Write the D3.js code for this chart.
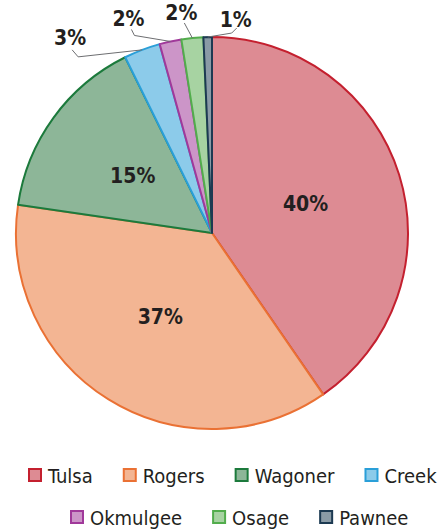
<!DOCTYPE html>
<html>
<head>
<meta charset="utf-8">
<script src="https://cdn.jsdelivr.net/npm/d3@7"></script>
<style>
  body { margin: 0; background: #fff; }
  text { font-family: "Liberation Sans Narrow", "Arial Narrow", "DejaVu Sans Condensed", sans-serif; }
  .pct { font-weight: bold; font-size: 21px; fill: #231f20; }
  .leg { font-size: 20px; fill: #231f20; }
</style>
</head>
<body>
<div id="chart"></div>
<script>
const counties = ["Tulsa", "Rogers", "Wagoner", "Creek", "Okmulgee", "Osage", "Pawnee"];
const shares = [40.4, 36.9, 15.4, 3.0, 1.8, 1.8, 0.7];
const labels = ["40%", "37%", "15%", "3%", "2%", "2%", "1%"];
const fills = ["#dd8b93", "#f3b593", "#8db698", "#8ccbea", "#cc95c8", "#a7d3a2", "#8a9ba6"];
const strokes = ["#c4202f", "#ea7134", "#1c7a3c", "#2a9fd8", "#a0399a", "#52ad4c", "#1c3a52"];
const outside = [false, false, false, true, true, true, true];

const width = 446, height = 531;
const cx = 212, cy = 233, radius = 196;

// leader line elbows / ends / text, relative to the point on the rim
const leaders = {
    3: { pts: [[-64, 7], [-70, 0]], txt: [-72, -5] },
    4: { pts: [[-36, -6], [-39, -12]], txt: [-42, -15] },
    5: { pts: [[-8, -15]], txt: [-11, -18] },
    6: { pts: [[24, -4], [29, -9]], txt: [28, -10] }
};

const svg = d3.select("#chart")
    .append("svg")
    .attr("width", width)
    .attr("height", height);

const pie = d3.pie().sort(null).value(d => d);
const arcs = pie(shares);

const arc = d3.arc().innerRadius(0).outerRadius(radius);
const labelArc = d3.arc().innerRadius(radius * 0.5).outerRadius(radius * 0.5);

const g = svg.append("g")
    .attr("transform", `translate(${cx},${cy})`);

g.selectAll("path.slice")
    .data(arcs)
    .join("path")
    .attr("class", "slice")
    .attr("d", arc)
    .attr("fill", (d, i) => fills[i])
    .attr("stroke", (d, i) => strokes[i])
    .attr("stroke-width", 2)
    .attr("stroke-linejoin", "round");

// inside labels
g.selectAll("text.inner")
    .data(arcs.filter((d, i) => !outside[i]))
    .join("text")
    .attr("class", "pct inner")
    .attr("transform", d => `translate(${labelArc.centroid(d)})`)
    .attr("text-anchor", "middle")
    .attr("dy", "0.35em")
    .text(d => labels[d.index]);

// outside labels with leader lines
arcs.forEach((d, i) => {
    if (!outside[i]) return;
    const mid = (d.startAngle + d.endAngle) / 2;
    const p = [Math.sin(mid) * radius, -Math.cos(mid) * radius];
    const l = leaders[i];
    const line = [p].concat(l.pts.map(o => [p[0] + o[0], p[1] + o[1]]));
    g.append("path")
        .attr("d", d3.line()(line))
        .attr("fill", "none")
        .attr("stroke", "#6d6e71")
        .attr("stroke-width", 1);
    g.append("text")
        .attr("class", "pct")
        .attr("x", p[0] + l.txt[0])
        .attr("y", p[1] + l.txt[1])
        .attr("text-anchor", "middle")
        .text(labels[i]);
});

// legend, two rows
const rows = [[0, 1, 2, 3], [4, 5, 6]];
const rowY = [476, 518];
const rowX = [28, 70];
const box = 14, gap = 30, pad = 6;

rows.forEach((row, r) => {
    const items = svg.append("g").attr("transform", `translate(${rowX[r]},0)`);
    let x = 0;
    row.forEach(i => {
        const item = items.append("g").attr("transform", `translate(${x},0)`);
        item.append("rect")
            .attr("x", 1)
            .attr("y", rowY[r] - box / 2)
            .attr("width", box - 2)
            .attr("height", box - 2)
            .attr("fill", fills[i])
            .attr("stroke", strokes[i])
            .attr("stroke-width", 2);
        const t = item.append("text")
            .attr("class", "leg")
            .attr("x", box + pad)
            .attr("y", rowY[r])
            .attr("dy", "0.35em")
            .text(counties[i]);
        x += box + pad + t.node().getComputedTextLength() + gap;
    });
});
</script>
</body>
</html>
